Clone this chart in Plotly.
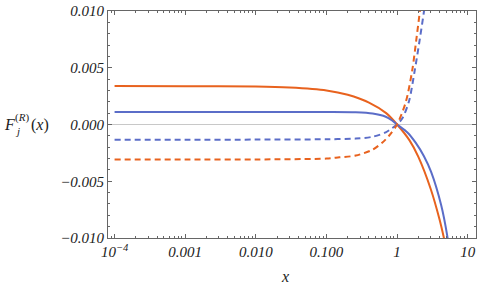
import plotly.graph_objects as go

# ---- data ----
x_orange_solid = [1e-4, 1e-3, 1e-2, 0.03, 0.1, 0.2, 0.4, 0.7, 1.0, 1.5, 2.0, 3.0, 4.0, 5.0]
y_orange_solid = [0.00339, 0.00338, 0.00334, 0.00325, 0.00300, 0.00262, 0.00193, 0.00100, 0.0,
                  -0.00140, -0.00285, -0.00570, -0.00840, -0.01100]

x_blue_solid = [1e-4, 1e-3, 1e-2, 0.1, 0.26, 0.45, 0.69, 0.85, 1.0, 1.4, 1.83, 2.4, 3.04, 4.21, 5.11, 6.0]
y_blue_solid = [0.00111, 0.00111, 0.00111, 0.00110, 0.00107, 0.00096, 0.00068, 0.00035, 0.0,
                -0.00070, -0.00160, -0.00280, -0.00420, -0.00712, -0.00975, -0.01280]

x_blue_dashed = [1e-4, 1e-3, 1e-2, 0.1, 0.26, 0.45, 0.69, 0.85, 1.0, 1.2, 1.48, 1.77, 2.09, 2.4, 2.7]
y_blue_dashed = [-0.00134, -0.00134, -0.00133, -0.00130, -0.00124, -0.00108, -0.00070, -0.00032, 0.0,
                 0.00060, 0.00210, 0.00470, 0.00748, 0.00996, 0.01250]

x_orange_dashed = [1e-4, 1e-3, 1e-2, 0.1, 0.152, 0.26, 0.45, 0.62, 0.77, 1.0, 1.33, 1.64, 1.89, 2.11, 2.4]
y_orange_dashed = [-0.00309, -0.00309, -0.00308, -0.00300, -0.00289, -0.00274, -0.00222, -0.00158,
                   -0.00099, 0.0, 0.00200, 0.00480, 0.00770, 0.01010, 0.01350]

x_tickvals = [1e-4, 1e-3, 1e-2, 1e-1, 1, 10]
x_ticktext = ["10<sup>\u22124</sup>", "0.001", "0.010", "0.100", "1", "10"]
y_tickvals = [-0.010, -0.005, 0.0, 0.005, 0.010]
y_ticktext = ["\u22120.010", "\u22120.005", "0.000", "0.005", "0.010"]

ORANGE = "#E8621E"
BLUE = "#5B6DC8"
FRAME = "#666666"
FONT = "Liberation Serif"

fig = go.Figure()
series = [
    (x_orange_solid, y_orange_solid, ORANGE, "solid"),
    (x_blue_solid, y_blue_solid, BLUE, "solid"),
    (x_blue_dashed, y_blue_dashed, BLUE, "6px,4px"),
    (x_orange_dashed, y_orange_dashed, ORANGE, "6px,4px"),
]
for xs, ys, c, d in series:
    fig.add_trace(go.Scatter(x=xs, y=ys, mode="lines",
                             line=dict(color=c, width=2, dash=d, shape="spline", smoothing=0.8),
                             showlegend=False, cliponaxis=True))

fig.update_layout(
    width=480, height=290,
    margin=dict(l=108, r=3, t=9, b=52),
    paper_bgcolor="white", plot_bgcolor="white",
    font=dict(family=FONT, size=15, color="#222222"),
)
fig.update_xaxes(
    type="log", range=[-4.093, 1.117],
    tickmode="array", tickvals=x_tickvals, ticktext=[f"<i>{t}</i>" for t in x_ticktext],
    ticks="inside", ticklen=4, tickwidth=1, tickcolor=FRAME,
    minor=dict(ticks="inside", ticklen=2, tickcolor=FRAME, dtick="D1", showgrid=False),
    showline=True, linecolor=FRAME, linewidth=1, mirror="allticks",
    showgrid=False, zeroline=False,
    tickfont=dict(family=FONT, size=15, color="#222222"),
)
fig.update_yaxes(
    range=[-0.010, 0.010],
    tickmode="array", tickvals=y_tickvals, ticktext=[f"<i>{t}</i>" for t in y_ticktext],
    ticks="inside", ticklen=4, tickwidth=1, tickcolor=FRAME,
    minor=dict(ticks="inside", ticklen=2, tickcolor=FRAME, dtick=0.001, showgrid=False),
    showline=True, linecolor=FRAME, linewidth=1, mirror="allticks",
    showgrid=False, zeroline=True, zerolinecolor="#c8c8c8", zerolinewidth=1,
    tickfont=dict(family=FONT, size=15, color="#222222"),
)

# axis labels
fig.add_annotation(xref="paper", yref="paper", x=0.48, y=0, yshift=-28,
                   text="<i>x</i>", showarrow=False, xanchor="center", yanchor="top",
                   font=dict(family=FONT, size=16, color="#222222"))
fig.add_annotation(xref="paper", yref="y", x=0, y=0.0, xshift=-106,
                   text="<i>F</i>", showarrow=False, xanchor="left", yanchor="middle",
                   font=dict(family=FONT, size=16, color="#222222"))
fig.add_annotation(xref="paper", yref="y", x=0, y=0.0, xshift=-95, yshift=7,
                   text="(<i>R</i>)", showarrow=False, xanchor="left", yanchor="middle",
                   font=dict(family=FONT, size=11, color="#222222"))
fig.add_annotation(xref="paper", yref="y", x=0, y=0.0, xshift=-95, yshift=-6,
                   text="<i>j</i>", showarrow=False, xanchor="left", yanchor="middle",
                   font=dict(family=FONT, size=11, color="#222222"))
fig.add_annotation(xref="paper", yref="y", x=0, y=0.0, xshift=-79,
                   text="(<i>x</i>)", showarrow=False, xanchor="left", yanchor="middle",
                   font=dict(family=FONT, size=16, color="#222222"))

fig.write_html("out.html")
